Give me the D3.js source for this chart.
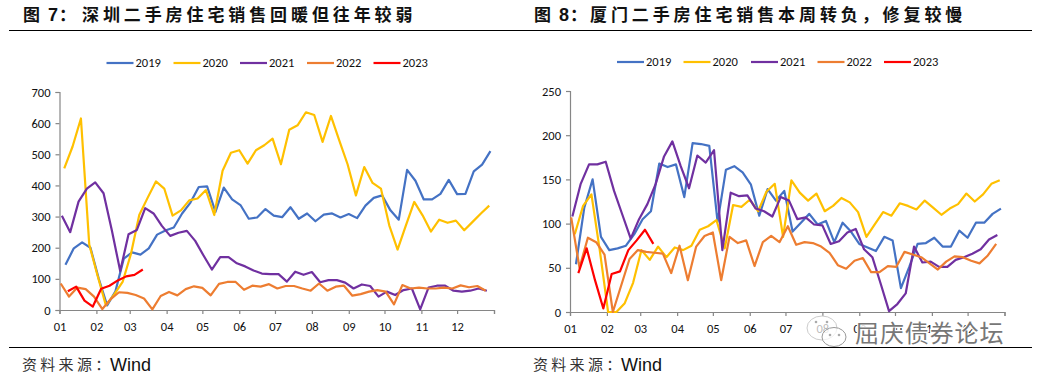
<!DOCTYPE html>
<html>
<head>
<meta charset="utf-8">
<script src="https://cdn.jsdelivr.net/npm/d3@7"></script>
<style>
html, body { margin: 0; padding: 0; background: #fff; }
svg { display: block; }
.tick text { font-family: Carlito, Lato, "Open Sans", sans-serif; font-size: 12.5px; fill: #111; }
.legend text { font-family: Carlito, Lato, "Open Sans", sans-serif; font-size: 12.5px; fill: #111; }
.title { font-family: "Noto Sans CJK SC", sans-serif; font-weight: 700; font-size: 17px; fill: #111; letter-spacing: 3.9px; }
.titleNum { font-family: "Liberation Sans", sans-serif; font-weight: 700; font-size: 18px; fill: #111; }
.source { font-family: "Noto Sans CJK SC", sans-serif; font-size: 15px; fill: #333; letter-spacing: 3.3px; }
.sourceEn { font-family: "Liberation Sans", sans-serif; font-size: 18px; fill: #111; }
.mark { font-family: "Noto Sans CJK SC", sans-serif; font-size: 24px; fill: #777; stroke: #fff; stroke-width: 2.5px; paint-order: stroke; letter-spacing: 0.9px; }
</style>
</head>
<body>
<svg id="chart" width="1038" height="378"></svg>
<script>
var years = ["2019", "2020", "2021", "2022", "2023"];
var colours = ["#4472C4", "#FFC000", "#7030A0", "#ED7D31", "#FF0000"];
// first weekly reading of each year, mapped onto one common year
var firstDays = ["2001-01-06", "2001-01-05", "2001-01-03", "2001-01-02", "2001-01-08"];
var monthLabels = ["01", "02", "03", "04", "05", "06", "07", "08", "09", "10", "11", "12"];

var szTicks = [0, 100, 200, 300, 400, 500, 600, 700];
var sz2019 = [145, 198, 217, 200, 100, 15, 60, 165, 185, 178, 198, 242, 255, 265, 310, 345, 395, 397, 315, 393, 355, 337, 293, 297, 324, 303, 298, 330, 293, 310, 285, 306, 310, 297, 308, 295, 335, 360, 368, 320, 290, 450, 415, 355, 355, 373, 418, 372, 373, 445, 467, 510];
var sz2020 = [455, 525, 615, 210, 110, 15, 50, 90, 180, 305, 360, 413, 390, 303, 320, 352, 358, 385, 305, 447, 505, 513, 470, 513, 529, 550, 468, 579, 593, 635, 626, 540, 623, 545, 468, 368, 459, 408, 390, 272, 194, 272, 347, 304, 252, 290, 280, 287, 256, 283, 310, 335];
var sz2021 = [303, 250, 348, 390, 410, 375, 255, 125, 243, 257, 327, 310, 270, 238, 248, 254, 222, 175, 130, 170, 170, 150, 140, 127, 117, 115, 115, 91, 123, 113, 122, 89, 96, 96, 88, 69, 82, 77, 43, 59, 48, 64, 69, 2, 72, 78, 78, 62, 59, 62, 69, 62];
var sz2022 = [85, 43, 72, 67, 43, 3, 35, 57, 55, 48, 37, 2, 45, 58, 47, 67, 76, 71, 47, 84, 90, 90, 65, 78, 75, 83, 69, 77, 77, 69, 62, 85, 62, 75, 78, 46, 51, 59, 64, 59, 18, 80, 69, 72, 69, 69, 72, 69, 79, 73, 77, 62];
var sz2023 = [60, 75, 30, 11, 68, 78, 95, 108, 113, 130];

var xmTicks = [0, 50, 100, 150, 200, 250];
var xm2019 = [54, 118, 150, 85, 70, 72, 75, 88, 105, 114, 168, 164, 167, 130, 191, 190, 188, 102, 161, 165, 158, 144, 109, 139, 126, 137, 91, 101, 111, 99, 103, 79, 101, 91, 77, 73, 69, 85, 81, 27, 51, 77, 78, 84, 74, 74, 92, 84, 101, 101, 111, 117];
var xm2020 = [88, 120, 133, 70, 0, 0, 10, 33, 70, 59, 74, 62, 73, 70, 75, 93, 97, 104, 72, 121, 119, 127, 114, 136, 145, 85, 149, 135, 126, 134, 114, 120, 129, 124, 113, 85, 99, 113, 109, 123, 120, 116, 126, 118, 110, 117, 122, 134, 125, 133, 145, 149];
var xm2021 = [108, 145, 167, 167, 170, 137, 110, 83, 105, 122, 145, 176, 193, 165, 140, 177, 169, 183, 70, 135, 131, 132, 117, 114, 108, 130, 126, 105, 107, 99, 98, 77, 80, 90, 94, 71, 62, 32, 1, 9, 21, 74, 56, 57, 51, 51, 59, 62, 66, 71, 82, 87];
var xm2022 = [107, 50, 84, 79, 65, 0, 30, 60, 70, 68, 67, 66, 44, 75, 36, 74, 86, 90, 36, 85, 78, 81, 52, 79, 86, 79, 97, 76, 79, 78, 74, 67, 53, 49, 58, 61, 45, 45, 52, 51, 68, 65, 62, 55, 48, 57, 63, 62, 58, 55, 64, 77];
var xm2023 = [44, 72, 36, 4, 43, 46, 70, 81, 93, 77];

var svg = d3.select("#chart");
var parseDay = d3.timeParse("%Y-%m-%d");

function drawPanel(p) {
    var g = svg.append("g");
    var x = d3.scaleTime()
        .domain([new Date(2001, 0, 1), new Date(2002, 0, 1)])
        .range([p.left, p.right]);
    var y = d3.scaleLinear()
        .domain([0, d3.max(p.ticks)])
        .range([p.bottom, p.top]);

    g.append("text").attr("class", "title").attr("x", p.prefixX).attr("y", 21).text("图");
    g.append("text").attr("class", "titleNum").attr("x", p.prefixX + 25).attr("y", 21).text(p.num);
    g.append("text").attr("class", "title").attr("x", p.prefixX + 36).attr("y", 21).text("：");
    g.append("text").attr("class", "title")
        .attr("x", p.titleX).attr("y", 21).text(p.title);
    g.append("line")
        .attr("x1", p.ruleFrom).attr("x2", p.ruleTo)
        .attr("y1", 30.5).attr("y2", 30.5)
        .attr("stroke", "#000").attr("stroke-width", 1);
    g.append("line")
        .attr("x1", p.ruleFrom).attr("x2", p.ruleTo)
        .attr("y1", 347.5).attr("y2", 347.5)
        .attr("stroke", "#000").attr("stroke-width", 1);
    g.append("text").attr("class", "source")
        .attr("x", p.ruleFrom + 13).attr("y", 370).text("资料来源：");
    g.append("text").attr("class", "sourceEn")
        .attr("x", p.ruleFrom + 101).attr("y", 371).text("Wind");

    var months = d3.timeMonth.range(new Date(2001, 0, 1), new Date(2002, 0, 2));
    var xAxis = g.append("g")
        .attr("transform", "translate(0," + p.bottom + ")")
        .call(d3.axisBottom(x).tickValues(months).tickSize(4).tickPadding(8)
            .tickFormat(function(d, i) { return monthLabels[i] || ""; }));
    var yAxis = g.append("g")
        .attr("transform", "translate(" + p.left + ",0)")
        .call(d3.axisLeft(y).tickValues(p.ticks).tickSize(4).tickPadding(5));
    [xAxis, yAxis].forEach(function(a) {
        a.selectAll("path,line").attr("stroke", "#868686").attr("stroke-width", 1.2);
    });

    var line = d3.line()
        .x(function(d) { return x(d.date); })
        .y(function(d) { return y(d.value); });

    p.series.forEach(function(values, i) {
        var start = parseDay(firstDays[i]);
        var rows = values.map(function(v, k) {
            return { date: d3.timeDay.offset(start, k * 7), value: v };
        });
        g.append("path").datum(rows)
            .attr("fill", "none")
            .attr("stroke", colours[i])
            .attr("stroke-width", 2.2)
            .attr("stroke-linejoin", "round")
            .attr("d", line);
    });

    var legend = g.append("g").attr("class", "legend");
    years.forEach(function(name, i) {
        var lx = p.legendX[i];
        legend.append("line")
            .attr("x1", lx).attr("x2", lx + 27)
            .attr("y1", p.legendY).attr("y2", p.legendY)
            .attr("stroke", colours[i]).attr("stroke-width", 2.2);
        legend.append("text")
            .attr("x", lx + 29).attr("y", p.legendY + 4).text(name);
    });
}

drawPanel({
    num: "7", prefixX: 23,
    title: "深圳二手房住宅销售回暖但往年较弱", titleX: 82, ruleFrom: 9, ruleTo: 520,
    left: 59.5, right: 494, top: 92, bottom: 310,
    ticks: szTicks, series: [sz2019, sz2020, sz2021, sz2022, sz2023],
    legendX: [106.5, 173.5, 240, 307, 373.5], legendY: 63
});
drawPanel({
    num: "8", prefixX: 534,
    title: "厦门二手房住宅销售本周转负，修复较慢", titleX: 590, ruleFrom: 520, ruleTo: 1032,
    left: 570, right: 1004.5, top: 91, bottom: 312,
    ticks: xmTicks, series: [xm2019, xm2020, xm2021, xm2022, xm2023],
    legendX: [617, 683.5, 751, 817.5, 884], legendY: 62
});

// watermark over the right panel
var wm = svg.append("g");
wm.append("ellipse").attr("cx", 822).attr("cy", 328).attr("rx", 15).attr("ry", 12)
    .attr("fill", "#fff").attr("fill-opacity", 0.7).attr("stroke", "#ccc");
wm.append("ellipse").attr("cx", 834).attr("cy", 337).attr("rx", 12).attr("ry", 9.5)
    .attr("fill", "#fff").attr("fill-opacity", 0.7).attr("stroke", "#999");
[[816, 322], [827, 322], [830, 335], [839, 335]].forEach(function(e) {
    wm.append("circle").attr("cx", e[0]).attr("cy", e[1]).attr("r", 1.3).attr("fill", "#aaa");
});
wm.append("text").attr("class", "mark").attr("x", 855).attr("y", 342).text("屈庆债券论坛");
</script>
</body>
</html>
